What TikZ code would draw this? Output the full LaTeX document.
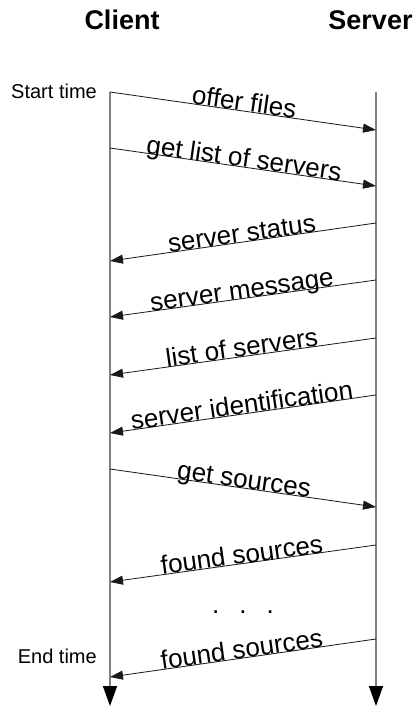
\documentclass[tikz,border=0pt]{standalone}
\usepackage{fontspec}
\setmainfont{Liberation Sans}
\usetikzlibrary{arrows.meta,positioning}

\tikzset{
  msg/.style={draw=black!90, line width=0.8pt, -{Triangle[length=13pt,width=9pt]}},
  life/.style={draw=black!50, line width=1.5pt, -{Triangle[length=20pt,width=14pt,color=black]}},
  lbl/.style={sloped, anchor=base, inner sep=0pt, font=\fontsize{26}{26}\selectfont},
  side/.style={anchor=base east, inner sep=0pt, font=\fontsize{20}{20}\selectfont},
  head/.style={anchor=base, inner sep=0pt, font=\fontsize{27}{27}\selectfont\bfseries}
}

\begin{document}
\begin{tikzpicture}[x=1pt, y=-1pt]
   \useasboundingbox (0,0) rectangle (418,706);
   % headings
   \node[head] (client) at (122,30) {Client};
   \node[head] (server) at (370.5,30) {Server};
   \node[side] (start) at (97,99) {Start time};
   \node[side] (end) at (97,663) {End time};
   % lifelines
   \coordinate (ctop) at (110,92);
   \coordinate (cbot) at (110,706);
   \coordinate (stop) at (376,92);
   \coordinate (sbot) at (376,706);
   \draw[life] (ctop) -- (cbot);
   \draw[life] (stop) -- (sbot);
   % message ends
   \coordinate (c1) at (110,92);   \coordinate (s1) at (376,130);
   \coordinate (c2) at (110,148);  \coordinate (s2) at (376,186);
   \coordinate (s3) at (376,223);  \coordinate (c3) at (110,261);
   \coordinate (s4) at (376,280);  \coordinate (c4) at (110,317);
   \coordinate (s5) at (376,338);  \coordinate (c5) at (110,375);
   \coordinate (s6) at (376,395);  \coordinate (c6) at (110,433);
   \coordinate (c7) at (110,469);  \coordinate (s7) at (376,507);
   \coordinate (s8) at (376,545);  \coordinate (c8) at (110,582);
   \coordinate (s9) at (376,639);  \coordinate (c9) at (110,677);
   \begin{scope}[every path/.style={msg}]
    \draw (c1) -- node[lbl]{offer files} (s1);
    \draw (c2) -- node[lbl]{get list of servers} (s2);
    \draw (s3) -- node[lbl]{server status} (c3);
    \draw (s4) -- node[lbl]{server message} (c4);
    \draw (s5) -- node[lbl]{list of servers} (c5);
    \draw (s6) -- node[lbl]{server identification} (c6);
    \draw (c7) -- node[lbl]{get sources} (s7);
    \draw (s8) -- node[lbl]{found sources} (c8);
    \draw (s9) -- node[lbl]{found sources} (c9);
   \end{scope}
   \node[lbl, sloped=false] (dots) at (243,613) {.\hspace{20pt}.\hspace{20pt}.};
\end{tikzpicture}
\end{document}
